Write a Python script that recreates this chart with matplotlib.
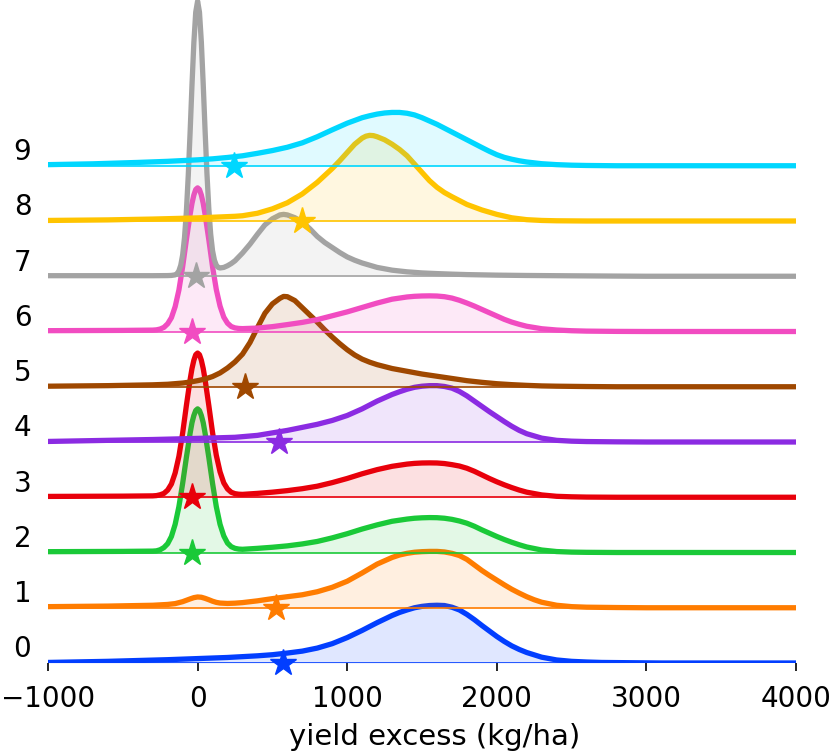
import matplotlib.pyplot as plt
import seaborn as sns
import numpy as np

# Ridgeline of yield-excess densities, one row per group (0..9).
# Each row: knot positions (kg/ha) and density heights,
# heights in units of the row spacing.

x_0 = [-1000, -600, -200, 0, 200, 400, 500, 600, 700, 800, 900, 1000, 1100, 1200,
       1300, 1350, 1400, 1450, 1500, 1550, 1600, 1650, 1700, 1750, 1800, 1850, 1900,
       1950, 2000, 2050, 2100, 2150, 2200, 2300, 2400, 2500, 2600, 2700, 2900, 3100, 4000]
y_0 = [0.01, 0.03, 0.06, 0.08, 0.1, 0.13, 0.15, 0.18, 0.215, 0.27, 0.35, 0.46, 0.59, 0.73,
       0.86, 0.915, 0.96, 1.0, 1.025, 1.04, 1.045, 1.04, 1.01, 0.96, 0.88, 0.785, 0.68,
       0.58, 0.48, 0.39, 0.31, 0.245, 0.19, 0.105, 0.055, 0.03, 0.018, 0.01, 0.005, 0, 0]

x_1 = [-1000, -600, -300, -200, -150, -100, -75, -50, -25, 0, 25, 50, 75, 100, 125, 150,
       200, 250, 300, 400, 500, 600, 700, 800, 900, 1000, 1100, 1200, 1300, 1350, 1400,
       1450, 1500, 1550, 1600, 1650, 1700, 1750, 1800, 1850, 1900, 1950, 2000, 2050, 2100,
       2150, 2200, 2250, 2300, 2400, 2500, 2600, 2800, 3000, 4000]
y_1 = [0.02, 0.03, 0.045, 0.06, 0.075, 0.11, 0.135, 0.16, 0.183, 0.195, 0.19, 0.17, 0.145,
       0.118, 0.097, 0.085, 0.078, 0.083, 0.093, 0.125, 0.165, 0.2, 0.235, 0.29, 0.37, 0.48,
       0.63, 0.79, 0.91, 0.955, 0.985, 1.005, 1.015, 1.02, 1.02, 1.01, 0.985, 0.945, 0.875,
       0.775, 0.675, 0.585, 0.5, 0.415, 0.335, 0.265, 0.2, 0.145, 0.1, 0.045, 0.02, 0.01,
       0.004, 0, 0]

x_2 = [-1000, -500, -300, -275, -250, -225, -200, -175, -150, -125, -100, -75, -50, -37.5,
       -25, -12.5, 0, 12.5, 25, 37.5, 50, 75, 100, 125, 150, 175, 200, 225, 250, 275, 300,
       400, 500, 600, 700, 800, 900, 1000, 1100, 1200, 1300, 1400, 1450, 1500, 1550, 1600,
       1650, 1700, 1750, 1800, 1850, 1900, 1950, 2000, 2050, 2100, 2150, 2200, 2300, 2400,
       2500, 2600, 2800, 4000]
y_2 = [0.015, 0.02, 0.025, 0.03, 0.05, 0.09, 0.16, 0.29, 0.51, 0.83, 1.25, 1.72, 2.16, 2.35,
       2.48, 2.57, 2.6, 2.57, 2.48, 2.35, 2.16, 1.72, 1.25, 0.83, 0.51, 0.3, 0.17, 0.105,
       0.075, 0.062, 0.058, 0.075, 0.095, 0.12, 0.155, 0.2, 0.265, 0.34, 0.425, 0.5, 0.565,
       0.605, 0.62, 0.628, 0.632, 0.63, 0.62, 0.6, 0.57, 0.53, 0.475, 0.41, 0.35, 0.29,
       0.235, 0.185, 0.14, 0.1, 0.045, 0.017, 0.007, 0.003, 0, 0]

x_3 = [-1000, -500, -300, -275, -250, -225, -200, -175, -150, -125, -100, -75, -50, -37.5,
       -25, -12.5, 0, 12.5, 25, 37.5, 50, 75, 100, 125, 150, 175, 200, 225, 250, 275, 300,
       400, 500, 600, 700, 800, 900, 1000, 1100, 1200, 1300, 1400, 1450, 1500, 1550, 1600,
       1650, 1700, 1750, 1800, 1850, 1900, 1950, 2000, 2050, 2100, 2150, 2200, 2300, 2400,
       2500, 2600, 2800, 4000]
y_3 = [0.015, 0.02, 0.025, 0.03, 0.045, 0.07, 0.13, 0.24, 0.44, 0.74, 1.16, 1.66, 2.13, 2.33,
       2.48, 2.58, 2.61, 2.58, 2.48, 2.33, 2.13, 1.66, 1.17, 0.76, 0.46, 0.26, 0.15, 0.09,
       0.065, 0.055, 0.052, 0.07, 0.092, 0.12, 0.155, 0.2, 0.265, 0.34, 0.425, 0.5, 0.56,
       0.6, 0.613, 0.62, 0.622, 0.62, 0.61, 0.59, 0.565, 0.525, 0.47, 0.405, 0.34, 0.28,
       0.225, 0.175, 0.13, 0.092, 0.042, 0.017, 0.008, 0.003, 0, 0]

x_4 = [-1000, -600, -300, 0, 250, 400, 500, 600, 700, 800, 900, 1000, 1100, 1200, 1300,
       1350, 1400, 1450, 1500, 1550, 1600, 1650, 1700, 1750, 1800, 1850, 1900, 1950, 2000,
       2050, 2100, 2150, 2200, 2300, 2400, 2500, 2600, 2800, 3000, 4000]
y_4 = [0.01, 0.03, 0.045, 0.065, 0.085, 0.12, 0.165, 0.21, 0.265, 0.32, 0.39, 0.48, 0.6,
       0.74, 0.86, 0.91, 0.955, 0.99, 1.01, 1.02, 1.02, 1.005, 0.975, 0.915, 0.835, 0.74,
       0.645, 0.55, 0.46, 0.37, 0.285, 0.21, 0.15, 0.07, 0.03, 0.015, 0.008, 0.003, 0, 0]

x_5 = [-1000, -600, -300, -200, -100, -50, 0, 50, 100, 150, 200, 250, 300, 350, 400, 450,
       500, 550, 575, 600, 650, 700, 750, 800, 850, 900, 950, 1000, 1050, 1100, 1150, 1200,
       1300, 1400, 1500, 1600, 1700, 1800, 1900, 2000, 2100, 2200, 2300, 2400, 2600, 2800,
       4000]
y_5 = [0.01, 0.02, 0.035, 0.045, 0.067, 0.085, 0.11, 0.14, 0.185, 0.25, 0.34, 0.45, 0.59,
       0.8, 1.07, 1.33, 1.5, 1.6, 1.635, 1.63, 1.56, 1.43, 1.3, 1.17, 1.03, 0.9, 0.78, 0.67,
       0.575, 0.5, 0.445, 0.4, 0.33, 0.28, 0.23, 0.19, 0.15, 0.11, 0.08, 0.055, 0.038,
       0.025, 0.015, 0.01, 0.004, 0, 0]

x_6 = [-1000, -500, -300, -275, -250, -225, -200, -175, -150, -125, -100, -75, -50, -37.5,
       -25, -12.5, 0, 12.5, 25, 37.5, 50, 75, 100, 125, 150, 175, 200, 225, 250, 275, 300,
       400, 500, 600, 700, 800, 900, 1000, 1100, 1200, 1300, 1400, 1450, 1500, 1550, 1600,
       1650, 1700, 1750, 1800, 1850, 1900, 1950, 2000, 2050, 2100, 2150, 2200, 2300, 2400,
       2500, 2600, 2800, 3000, 4000]
y_6 = [0.015, 0.02, 0.025, 0.03, 0.045, 0.075, 0.14, 0.25, 0.45, 0.75, 1.17, 1.66, 2.12,
       2.32, 2.47, 2.57, 2.6, 2.57, 2.47, 2.32, 2.12, 1.66, 1.17, 0.76, 0.46, 0.26, 0.15,
       0.09, 0.065, 0.055, 0.052, 0.062, 0.088, 0.125, 0.165, 0.215, 0.285, 0.355, 0.435,
       0.515, 0.585, 0.625, 0.637, 0.643, 0.645, 0.642, 0.63, 0.605, 0.565, 0.515, 0.46,
       0.4, 0.34, 0.28, 0.22, 0.17, 0.13, 0.095, 0.05, 0.027, 0.014, 0.007, 0.002, 0, 0]

x_7 = [-1000, -300, -200, -175, -150, -137.5, -125, -112.5, -100, -87.5, -75, -62.5, -50,
       -37.5, -25, -12.5, 0, 12.5, 25, 37.5, 50, 62.5, 75, 87.5, 100, 112.5, 125, 137.5,
       150, 175, 200, 225, 250, 300, 350, 400, 450, 500, 550, 575, 600, 650, 700, 750, 800,
       850, 900, 950, 1000, 1050, 1100, 1200, 1300, 1400, 1500, 1600, 1700, 1800, 2000,
       2200, 2500, 2800, 3000, 4000]
y_7 = [0.01, 0.01, 0.012, 0.015, 0.025, 0.045, 0.098, 0.2, 0.385, 0.7, 1.17, 1.82, 2.61,
       3.46, 4.23, 4.78, 4.98, 4.78, 4.24, 3.48, 2.64, 1.86, 1.22, 0.76, 0.46, 0.29, 0.2,
       0.16, 0.15, 0.16, 0.19, 0.23, 0.28, 0.42, 0.58, 0.76, 0.93, 1.04, 1.11, 1.12, 1.11,
       1.06, 0.98, 0.86, 0.72, 0.61, 0.52, 0.43, 0.35, 0.29, 0.24, 0.16, 0.11, 0.08, 0.06,
       0.048, 0.038, 0.03, 0.02, 0.014, 0.008, 0.003, 0, 0]

x_8 = [-1000, -600, -300, 0, 250, 300, 400, 500, 600, 700, 800, 900, 950, 1000, 1050, 1100,
       1125, 1150, 1175, 1200, 1250, 1300, 1350, 1400, 1450, 1500, 1550, 1600, 1650, 1700,
       1750, 1800, 1900, 2000, 2100, 2200, 2300, 2400, 2600, 4000]
y_8 = [0.01, 0.02, 0.035, 0.056, 0.085, 0.095, 0.14, 0.22, 0.33, 0.49, 0.7, 0.95, 1.09,
       1.24, 1.39, 1.5, 1.535, 1.55, 1.545, 1.525, 1.47, 1.39, 1.295, 1.18, 1.03, 0.88,
       0.73, 0.61, 0.515, 0.44, 0.37, 0.3, 0.2, 0.12, 0.058, 0.024, 0.01, 0.004, 0, 0]

x_9 = [-1000, -700, -400, -200, 0, 100, 200, 300, 400, 500, 600, 700, 800, 900, 1000, 1100,
       1150, 1200, 1250, 1300, 1350, 1400, 1450, 1500, 1550, 1600, 1650, 1700, 1750, 1800,
       1850, 1900, 1950, 2000, 2050, 2100, 2150, 2200, 2300, 2400, 2500, 2600, 2800, 4000]
y_9 = [0.02, 0.035, 0.06, 0.08, 0.107, 0.125, 0.15, 0.18, 0.225, 0.275, 0.335, 0.415, 0.525,
       0.65, 0.77, 0.87, 0.905, 0.935, 0.955, 0.965, 0.965, 0.95, 0.92, 0.87, 0.81, 0.75,
       0.68, 0.61, 0.54, 0.47, 0.4, 0.33, 0.262, 0.2, 0.152, 0.118, 0.09, 0.068, 0.037,
       0.02, 0.01, 0.005, 0, 0]

xs = [x_0, x_1, x_2, x_3, x_4, x_5, x_6, x_7, x_8, x_9]
ys = [y_0, y_1, y_2, y_3, y_4, y_5, y_6, y_7, y_8, y_9]
rows = list(range(10))

# mean yield excess per row (star markers)
means = [570, 524, -40, -40, 546, 315, -40, -10, 695, 243]

x_ticks = [-1000, 0, 1000, 2000, 3000, 4000]

colors = sns.color_palette("bright", 10)

fig, ax = plt.subplots(figsize=(8.3, 7.55), dpi=100)
fig.subplots_adjust(left=48/830, right=796/830, bottom=92/755, top=1.0)

for i, xk, yk, mean, col in zip(rows, xs, ys, means, colors):
    z = 3 + 4 * i
    y = i + np.array(yk)
    ax.fill_between(xk, i, y, color=col, alpha=0.12, lw=0, zorder=z)
    ax.plot(xk, y, color=col, lw=3.8, zorder=z + 1,
            solid_joinstyle='round', solid_capstyle='round')
    ax.axhline(i, color=col, lw=1.2, zorder=z + 2)
    ax.plot([mean], [i], marker='*', ms=20, color=col, lw=0,
            zorder=z + 3, clip_on=False)

ax.set_xlim(-1000, 4000)
ax.set_ylim(0, 12.0)
ax.set_xticks(x_ticks)
ax.set_yticks([r + 0.3 for r in rows])
ax.set_yticklabels([str(r) for r in rows])
ax.tick_params(axis='y', length=0, pad=12, labelsize=20)
ax.tick_params(axis='x', length=6, width=1.2, pad=10, labelsize=20)
for s in ax.spines.values():
    s.set_visible(False)
ax.set_xlabel('yield excess (kg/ha)', fontsize=21, labelpad=7)
ax.xaxis.label.set_x(0.517)

fig.savefig('out.png', dpi=100)
